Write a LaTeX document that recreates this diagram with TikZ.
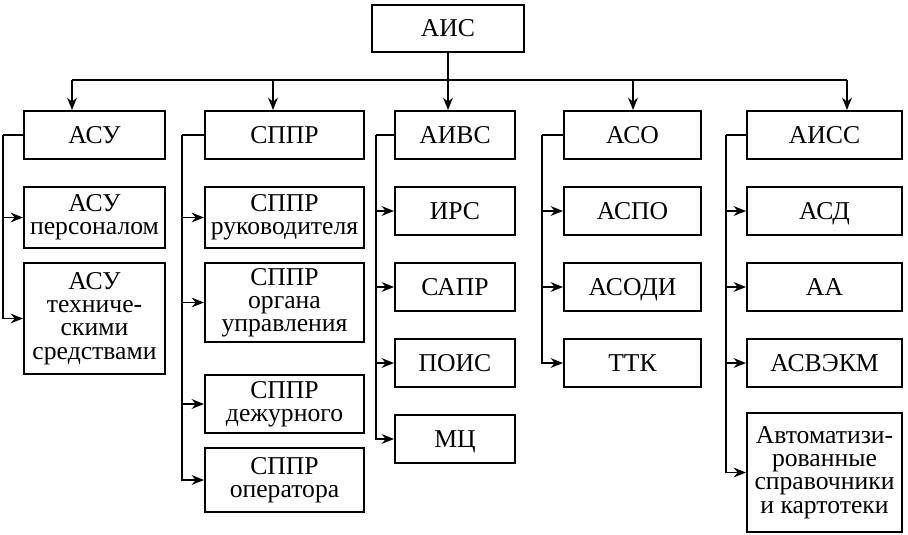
\documentclass[tikz,border=0pt]{standalone}
\usepackage{fontspec}
\setmainfont{Liberation Serif}
\usetikzlibrary{arrows.meta, positioning}
\tikzstyle{box} = [rectangle, draw=black, line width=1.1pt, fill=white, text centered, align=center, inner sep=2pt, minimum height=0.96cm, font=\fontsize{14.6}{13.2}\selectfont]
\tikzstyle{oneline} = [text height=9.6pt, text depth=0pt]
\tikzstyle{colA} = [box, minimum width=2.82cm]
\tikzstyle{colB} = [box, minimum width=3.18cm]
\tikzstyle{colC} = [box, oneline, minimum width=2.40cm]
\tikzstyle{colD} = [box, oneline, minimum width=2.74cm]
\tikzstyle{colE} = [box, minimum width=3.10cm]
\tikzstyle{line} = [line width=1.1pt]
\tikzstyle{arrow} = [line width=1.1pt,->,>={Stealth[length=7pt,width=5.5pt]}]

\begin{document}
\begin{tikzpicture}[node distance=1.52cm]
    \useasboundingbox (0,0) rectangle (18.16,-10.68);
    \node (ais) [box, oneline, minimum width=3.04cm, minimum height=0.94cm] at (8.96,-0.57) {АИС};
    \node (asu) [colA, oneline] at (1.89,-2.70) {АСУ};
    \node (sppr) [colB, oneline] at (5.69,-2.70) {СППР};
    \node (aivs) [colC] at (9.10,-2.70) {АИВС};
    \node (aso) [colD] at (12.65,-2.70) {АСО};
    \node (aiss) [colE, oneline] at (16.49,-2.70) {АИСС};

    % column 1
    \node (asuPers) [colA, minimum height=1.22cm, below of=asu, yshift=-0.13cm] {АСУ\\персоналом};
    \node (asuTech) [colA, minimum height=2.22cm, below of=asuPers, yshift=-0.5cm] {АСУ\\техниче-\\скими\\средствами};
    % column 2
    \node (spprRuk) [colB, minimum height=1.22cm, below of=sppr, yshift=-0.13cm] {СППР\\руководителя};
    \node (spprOrg) [colB, minimum height=1.58cm, below of=spprRuk, yshift=-0.18cm] {СППР\\органа\\управления};
    \node (spprDezh) [colB, minimum height=1.16cm, below of=spprOrg, yshift=-0.51cm] {СППР\\дежурного};
    \node (spprOper) [colB, minimum height=1.28cm, below of=spprDezh] {СППР\\оператора};
    % column 3
    \node (irs) [colC, below of=aivs] {ИРС};
    \node (sapr) [colC, below of=irs] {САПР};
    \node (pois) [colC, below of=sapr] {ПОИС};
    \node (mc) [colC, below of=pois] {МЦ};
    % column 4
    \node (aspo) [colD, below of=aso] {АСПО};
    \node (asodi) [colD, below of=aspo] {АСОДИ};
    \node (ttk) [colD, below of=asodi] {ТТК};
    % column 5
    \node (asd) [colE, oneline, below of=aiss] {АСД};
    \node (aa) [colE, oneline, below of=asd] {АА};
    \node (asvekm) [colE, oneline, below of=aa] {АСВЭКМ};
    \node (avto) [colE, minimum height=2.38cm, below of=asvekm, yshift=-0.67cm] {Автоматизи-\\рованные\\справочники\\и картотеки};

    % top bus
    \coordinate (b1) at (1.44,-1.60);
    \coordinate (b2) at (5.46,-1.60);
    \coordinate (b4) at (12.66,-1.60);
    \coordinate (b5) at (16.94,-1.60);
    \draw [line] (b1) -- (b5);
    \draw [arrow] (ais) -- (ais |- aivs.north);
    \draw [arrow] (b1) -- (b1 |- asu.north);
    \draw [arrow] (b2) -- (b2 |- sppr.north);
    \draw [arrow] (b4) -- (b4 |- aso.north);
    \draw [arrow] (b5) -- (b5 |- aiss.north);

    % brackets
    \draw [line] (asu.west) -- ++(-0.4,0) coordinate (l1);
    \draw [arrow] (l1) |- (asuPers);
    \draw [arrow] (l1) |- (asuTech);

    \draw [line] (sppr.west) -- ++(-0.44,0) coordinate (l2);
    \draw [arrow] (l2) |- (spprRuk);
    \draw [arrow] (l2) |- (spprOrg);
    \draw [arrow] (l2) |- (spprDezh);
    \draw [arrow] (l2) |- (spprOper);

    \draw [line] (aivs.west) -- ++(-0.36,0) coordinate (l3);
    \draw [arrow] (l3) |- (irs);
    \draw [arrow] (l3) |- (sapr);
    \draw [arrow] (l3) |- (pois);
    \draw [arrow] (l3) |- (mc);

    \draw [line] (aso.west) -- ++(-0.42,0) coordinate (l4);
    \draw [arrow] (l4) |- (aspo);
    \draw [arrow] (l4) |- (asodi);
    \draw [arrow] (l4) |- (ttk);

    \draw [line] (aiss.west) -- ++(-0.4,0) coordinate (l5);
    \draw [arrow] (l5) |- (asd);
    \draw [arrow] (l5) |- (aa);
    \draw [arrow] (l5) |- (asvekm);
    \draw [arrow] (l5) |- (avto);
\end{tikzpicture}
\end{document}
